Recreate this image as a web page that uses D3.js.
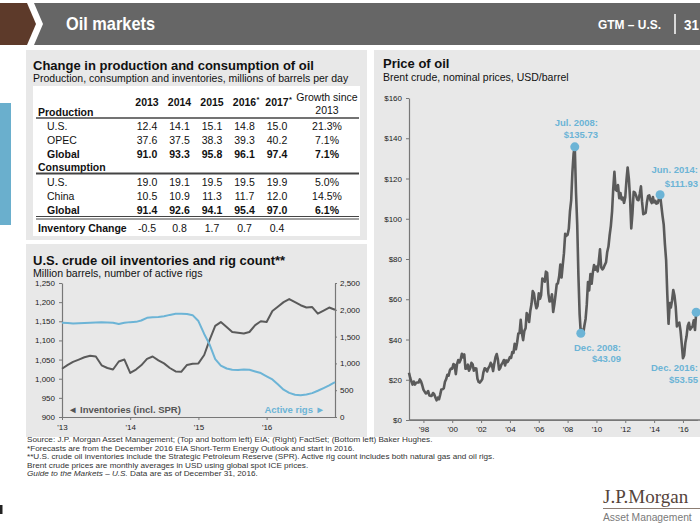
<!DOCTYPE html>
<html><head><meta charset="utf-8">
<script src="https://cdn.jsdelivr.net/npm/d3@7"></script>
<style>
html,body{margin:0;padding:0;background:#fff;}
svg{display:block;}
</style></head><body>
<svg id="c" width="700" height="525"></svg>
<script>
// ---------------- DATA ----------------
const tableYears = ["2013","2014","2015","2016","2017"];
const tableYearMarks = ["","","","*","*"];
const prodUS = [12.4,14.1,15.1,14.8,15.0];
const prodOPEC = [37.6,37.5,38.3,39.3,40.2];
const prodGlobal = [91.0,93.3,95.8,96.1,97.4];
const prodGrowth = ["21.3%","7.1%","7.1%"];
const consUS = [19.0,19.1,19.5,19.5,19.9];
const consChina = [10.5,10.9,11.3,11.7,12.0];
const consGlobal = [91.4,92.6,94.1,95.4,97.0];
const consGrowth = ["5.0%","14.5%","6.1%"];
const invChange = [-0.5,0.8,1.7,0.7,0.4];

// U.S. crude inventories (million barrels), monthly Jan 2013 .. end Dec 2016
const inventories = [
 1026,1036,1044,1050,1056,1060,1058,1035,1028,1024,1045,1050,
 1015,1024,1035,1052,1058,1048,1040,1028,1019,1018,1036,1039,
 1040,1062,1100,1138,1148,1135,1122,1120,1118,1122,1140,1150,
 1148,1177,1188,1200,1208,1200,1192,1186,1187,1170,1178,1186,
 1180];
// Active rigs, monthly Jan 2013 .. end Dec 2016
const activeRigs = [
 1760,1755,1745,1750,1755,1760,1765,1770,1765,1760,1735,1760,
 1770,1775,1800,1850,1860,1865,1880,1905,1925,1925,1920,1900,
 1790,1550,1360,1080,960,905,880,875,885,880,850,820,
 760,700,610,510,450,415,405,420,445,490,540,590,
 650];
const invTicks = [900,950,1000,1050,1100,1150,1200,1250];
const rigTicks = [0,500,1000,1500,2000,2500];
const invYearTicks = [2013,2014,2015,2016];

// Brent crude monthly average, USD/barrel, Jan 1997 .. Dec 2016
const brent = [
 23.5,20.9,19.2,17.6,19.1,17.6,18.5,18.6,18.6,20.2,19.2,17.4,
 15.1,14.1,13.2,13.4,14.4,12.2,12.0,12.0,13.4,12.8,11.2,9.8,
 11.1,10.3,12.5,15.2,15.3,15.8,19.0,20.3,22.5,22.0,24.6,25.6,
 25.5,27.8,27.4,22.8,27.6,29.8,28.6,30.0,32.9,31.1,32.6,25.5,
 25.6,27.5,24.5,25.7,28.4,27.7,24.5,25.7,25.6,20.5,18.9,18.6,
 19.4,20.3,23.7,25.7,25.4,24.1,25.7,26.6,28.4,27.5,24.3,28.0,
 31.2,32.8,30.3,25.0,25.8,27.6,28.4,29.8,27.1,29.6,28.8,29.8,
 31.3,30.9,33.8,33.4,37.9,35.2,38.4,43.0,43.2,49.8,43.1,39.7,
 44.3,45.6,53.1,51.9,48.7,54.3,57.6,64.1,62.9,58.5,55.5,56.7,
 62.9,60.2,62.1,70.3,69.8,68.7,73.7,73.2,62.8,58.9,59.1,62.5,
 53.7,57.6,62.1,67.5,67.9,71.3,77.2,70.8,77.1,82.9,92.5,91.5,
 92.0,95.0,103.6,109.1,122.8,132.3,135.73,113.2,97.1,71.9,52.5,43.09,
 44.9,43.2,46.8,50.2,57.3,68.6,64.4,72.5,67.7,73.2,77.0,74.7,
 76.2,73.8,78.8,84.8,75.9,74.8,75.6,77.1,78.4,83.5,86.2,91.8,
 96.5,103.7,114.6,123.3,114.5,113.9,116.7,110.2,112.8,109.6,110.5,107.9,
 110.7,119.3,125.5,119.8,110.3,95.2,102.6,113.4,113.0,111.5,109.5,109.2,
 112.3,116.1,108.5,102.3,102.6,102.9,107.9,111.3,111.6,109.1,107.8,110.8,
 108.1,108.9,107.5,107.8,109.7,111.93,106.8,101.6,97.1,87.4,79.4,62.3,
 47.8,58.1,55.9,59.5,64.6,61.7,56.5,46.5,47.6,48.4,44.3,38.0,
 30.7,32.2,38.2,41.6,46.7,48.3,44.9,45.8,46.6,49.5,44.7,53.55];
const priceTicks = [0,20,40,60,80,100,120,140,160];
const priceYearTicks = [1998,2000,2002,2004,2006,2008,2010,2012,2014,2016];
const annotMonths = ["2008-07","2008-12","2014-06","2016-12"];
const annotTitles = ["Jul. 2008:","Dec. 2008:","Jun. 2014:","Dec. 2016:"];

const footnotes = [
 "Source: J.P. Morgan Asset Management; (Top and bottom left) EIA; (Right) FactSet; (Bottom left) Baker Hughes.",
 "*Forecasts are from the December 2016 EIA Short-Term Energy Outlook and start in 2016.",
 "**U.S. crude oil inventories include the Strategic Petroleum Reserve (SPR). Active rig count includes both natural gas and oil rigs.",
 "Brent crude prices are monthly averages in USD using global spot ICE prices."
];

// ---------------- DRAWING ----------------
const FONT = '"Liberation Sans", Arial, Helvetica, sans-serif';
const BLUE = "#6cb4d6";
const LINEGRAY = "#5a5a5a";
const PANEL = "#e8e8e8";
const svg = d3.select("#c").style("font-family", FONT);

function txt(g, x, y, s, size, opts = {}) {
  const t = g.append("text").attr("x", x).attr("y", y).text(s)
    .attr("font-size", size).attr("fill", opts.fill || "#111")
    .attr("font-weight", opts.bold ? "bold" : "normal")
    .attr("text-anchor", opts.anchor || "start");
  if (opts.family) t.attr("font-family", opts.family);
  if (opts.italic) t.attr("font-style", "italic");
  if (opts.len) t.attr("textLength", opts.len).attr("lengthAdjust", "spacingAndGlyphs");
  return t;
}

// Header
svg.append("polygon").attr("points", "0,3 27,3 36,24 27,45 0,45").attr("fill", "#5d3a2a");
svg.append("polygon").attr("points", "34,3 700,3 700,45 34,45 43,24").attr("fill", "#666666");
txt(svg, 66, 30, "Oil markets", 19, {fill: "#fff", bold: true, len: 89});
txt(svg, 598, 29, "GTM – U.S.", 13, {fill: "#fff", bold: true, len: 63});
svg.append("line").attr("x1", 675).attr("x2", 675).attr("y1", 14).attr("y2", 34).attr("stroke", "#fff").attr("stroke-width", 1.5);
txt(svg, 684, 30, "31", 15.5, {fill: "#fff", bold: true, len: 15});

// side blue tab
svg.append("rect").attr("x", 0).attr("y", 103).attr("width", 11).attr("height", 122).attr("fill", "#6aafcd");
svg.append("rect").attr("x", 0).attr("y", 505).attr("width", 2.5).attr("height", 9).attr("fill", "#222");

// Panels
svg.append("rect").attr("x", 26).attr("y", 50).attr("width", 341).attr("height", 190).attr("fill", PANEL);
svg.append("rect").attr("x", 26).attr("y", 244).attr("width", 341).attr("height", 193).attr("fill", PANEL);
svg.append("rect").attr("x", 374).attr("y", 50).attr("width", 326).attr("height", 387).attr("fill", PANEL);

// ---------- Table ----------
const tg = svg.append("g");
txt(tg, 33, 70, "Change in production and consumption of oil", 13, {bold: true});
txt(tg, 33, 82, "Production, consumption and inventories, millions of barrels per day", 10.5);
tg.append("rect").attr("x", 33).attr("y", 86).attr("width", 327).attr("height", 150).attr("fill", "#fff");

const colX = d3.scalePoint().domain(tableYears).range([147, 277]);
const fmt = v => v.toFixed(1);
tableYears.forEach((y, i) => {
  txt(tg, colX(y), 106, y, 10.5, {bold: true, anchor: "middle"});
  if (tableYearMarks[i]) txt(tg, colX(y) + 12, 102, tableYearMarks[i], 7.5, {bold: true});
});
txt(tg, 327, 101, "Growth since", 10.5, {anchor: "middle"});
txt(tg, 327, 114, "2013", 10.5, {anchor: "middle"});

const sections = [
  {head: "Production", headY: 115.5, lineY: 118, lineW: 1.4,
   rows: [
    {label: "U.S.", vals: prodUS, growth: prodGrowth[0], y: 130},
    {label: "OPEC", vals: prodOPEC, growth: prodGrowth[1], y: 143.5},
    {label: "Global", vals: prodGlobal, growth: prodGrowth[2], y: 157.5, bold: true}]},
  {head: "Consumption", headY: 171, lineY: 173.5, lineW: 2,
   rows: [
    {label: "U.S.", vals: consUS, growth: consGrowth[0], y: 186},
    {label: "China", vals: consChina, growth: consGrowth[1], y: 199.5},
    {label: "Global", vals: consGlobal, growth: consGrowth[2], y: 214, bold: true}]}
];
sections.forEach(s => {
  txt(tg, 38, s.headY, s.head, 10.5, {bold: true});
  tg.append("line").attr("x1", 36).attr("x2", 359).attr("y1", s.lineY).attr("y2", s.lineY)
    .attr("stroke", "#444").attr("stroke-width", s.lineW);
  s.rows.forEach(r => {
    txt(tg, 47, r.y, r.label, 10.5, {bold: r.bold});
    r.vals.forEach((v, i) => txt(tg, colX(tableYears[i]), r.y, fmt(v), 10.5, {bold: r.bold, anchor: "middle"}));
    txt(tg, 327, r.y, r.growth, 10.5, {bold: r.bold, anchor: "middle"});
  });
});
[216.5, 219].forEach(yy => tg.append("line").attr("x1", 36).attr("x2", 359).attr("y1", yy).attr("y2", yy)
  .attr("stroke", "#444").attr("stroke-width", 1));
txt(tg, 38, 232, "Inventory Change", 10.5, {bold: true});
invChange.forEach((v, i) => txt(tg, colX(tableYears[i]), 232, fmt(v), 10.5, {anchor: "middle"}));

// ---------- Inventories & rigs ----------
const ig = svg.append("g");
txt(ig, 33, 265, "U.S. crude oil inventories and rig count**", 13, {bold: true});
txt(ig, 33, 277, "Million barrels, number of active rigs", 10.6);

const monthDates = d3.range(inventories.length).map(i => new Date(2013, i, 1));
const invX = d3.scaleTime().domain([new Date(2013, 0, 1), new Date(2017, 0, 1)]).range([62, 335]);
const invY = d3.scaleLinear().domain([900, 1250]).range([417, 283]);
const rigY = d3.scaleLinear().domain([0, 2500]).range([417, 283]);

function styleAxis(g) {
  g.attr("font-family", FONT).attr("font-size", 8);
  g.selectAll("text").attr("fill", "#222");
  g.selectAll(".domain").attr("stroke", "#777").attr("stroke-width", 1.2);
  g.selectAll(".tick line").attr("stroke", "#777");
}
ig.append("g").attr("transform", "translate(62,0)")
  .call(d3.axisLeft(invY).tickValues(invTicks).tickFormat(d3.format(",")).tickSize(3).tickSizeOuter(0).tickPadding(4))
  .call(styleAxis);
ig.append("g").attr("transform", "translate(335,0)")
  .call(d3.axisRight(rigY).tickValues(rigTicks).tickFormat(d3.format(",")).tickSize(2).tickSizeOuter(0).tickPadding(3))
  .call(styleAxis);
ig.append("g").attr("transform", "translate(0,417)")
  .call(d3.axisBottom(invX).tickValues(invYearTicks.map(y => new Date(y, 0, 1)))
    .tickFormat(d => "'" + String(d.getFullYear()).slice(2)).tickSize(3).tickSizeOuter(0).tickPadding(4))
  .call(styleAxis);

ig.append("path").datum(inventories)
  .attr("d", d3.line().x((d, i) => invX(monthDates[i])).y(d => invY(d)))
  .attr("fill", "none").attr("stroke", LINEGRAY).attr("stroke-width", 2).attr("stroke-linejoin", "round");
ig.append("path").datum(activeRigs)
  .attr("d", d3.line().x((d, i) => invX(monthDates[i])).y(d => rigY(d)))
  .attr("fill", "none").attr("stroke", BLUE).attr("stroke-width", 2).attr("stroke-linejoin", "round");

txt(ig, 68, 412.5, "◄ Inventories (incl. SPR)", 9.5, {bold: true, fill: "#555"});
txt(ig, 325, 412.5, "Active rigs ►", 9.5, {bold: true, fill: BLUE, anchor: "end"});

// ---------- Price of oil ----------
const pg = svg.append("g");
txt(pg, 383, 68, "Price of oil", 13, {bold: true});
txt(pg, 383, 81, "Brent crude, nominal prices, USD/barrel", 10.5);

const priceDates = d3.range(brent.length).map(i => new Date(1997, i, 1));
const px = d3.scaleTime().domain([new Date(1997, 0, 1), new Date(2017, 0, 1)]).range([409, 697.4]);
const py = d3.scaleLinear().domain([0, 160]).range([420, 98]);

pg.append("line").attr("x1", 409).attr("x2", 700).attr("y1", 420).attr("y2", 420).attr("stroke", "#777").attr("stroke-width", 1.5);
pg.append("g").attr("transform", "translate(409,0)")
  .call(d3.axisLeft(py).tickValues(priceTicks).tickFormat(d => "$" + d).tickSize(3).tickSizeOuter(0).tickPadding(4))
  .call(styleAxis);
pg.append("g").attr("transform", "translate(0,420)")
  .call(d3.axisBottom(px).tickValues(priceYearTicks.map(y => new Date(y, 0, 1)))
    .tickFormat(d => "'" + String(d.getFullYear()).slice(2)).tickSize(3).tickSizeOuter(0).tickPadding(3))
  .call(styleAxis);

pg.append("path").datum(brent)
  .attr("d", d3.line().x((d, i) => px(priceDates[i])).y(d => py(d)))
  .attr("fill", "none").attr("stroke", LINEGRAY).attr("stroke-width", 2.6).attr("stroke-linejoin", "round");

// label placement (end-anchored x, baseline offsets from the point)
const annotPos = [
  {x: 598, l1: -20.5, l2: -8.5},
  {x: 621, l1: 18, l2: 29},
  {x: 698, l1: -22, l2: -8},
  {x: 698, l1: 59, l2: 71}
];
annotMonths.forEach((m, k) => {
  const [yy, mm] = m.split("-").map(Number);
  const idx = (yy - 1997) * 12 + (mm - 1);
  const v = brent[idx];
  const cx = px(priceDates[idx]), cy = py(v);
  pg.append("circle").attr("cx", cx).attr("cy", cy).attr("r", 4.5).attr("fill", BLUE);
  const p = annotPos[k];
  txt(pg, p.x, cy + p.l1, annotTitles[k], 9.5, {bold: true, fill: BLUE, anchor: "end"});
  txt(pg, p.x, cy + p.l2, "$" + d3.format(".2f")(v), 9.5, {bold: true, fill: BLUE, anchor: "end"});
});

// ---------- Footer ----------
const fg = svg.append("g");
const footEls = footnotes.map((s, i) => txt(fg, 27, 442 + i * 8.6, s, 7.3, {fill: "#333"}));
const last = txt(fg, 27, 442 + 4 * 8.6, "", 7.3, {fill: "#333"});
last.append("tspan").attr("font-style", "italic").text("Guide to the Markets – U.S.");
last.append("tspan").text(" Data are as of December 31, 2016.");
footEls.concat([last]).forEach(t => {
  const w = t.node().getComputedTextLength();
  t.attr("textLength", w * 1.12).attr("lengthAdjust", "spacingAndGlyphs");
});

// Logo
txt(svg, 603, 503, "J.P.Morgan", 19, {fill: "#55443b", family: '"Liberation Serif", "DejaVu Serif", serif'});
svg.append("line").attr("x1", 603).attr("x2", 700).attr("y1", 508.5).attr("y2", 508.5).attr("stroke", "#8c7d73").attr("stroke-width", 1);
txt(svg, 603, 521, "Asset Management", 10.3, {fill: "#7a7a7a"});
</script>
</body></html>
